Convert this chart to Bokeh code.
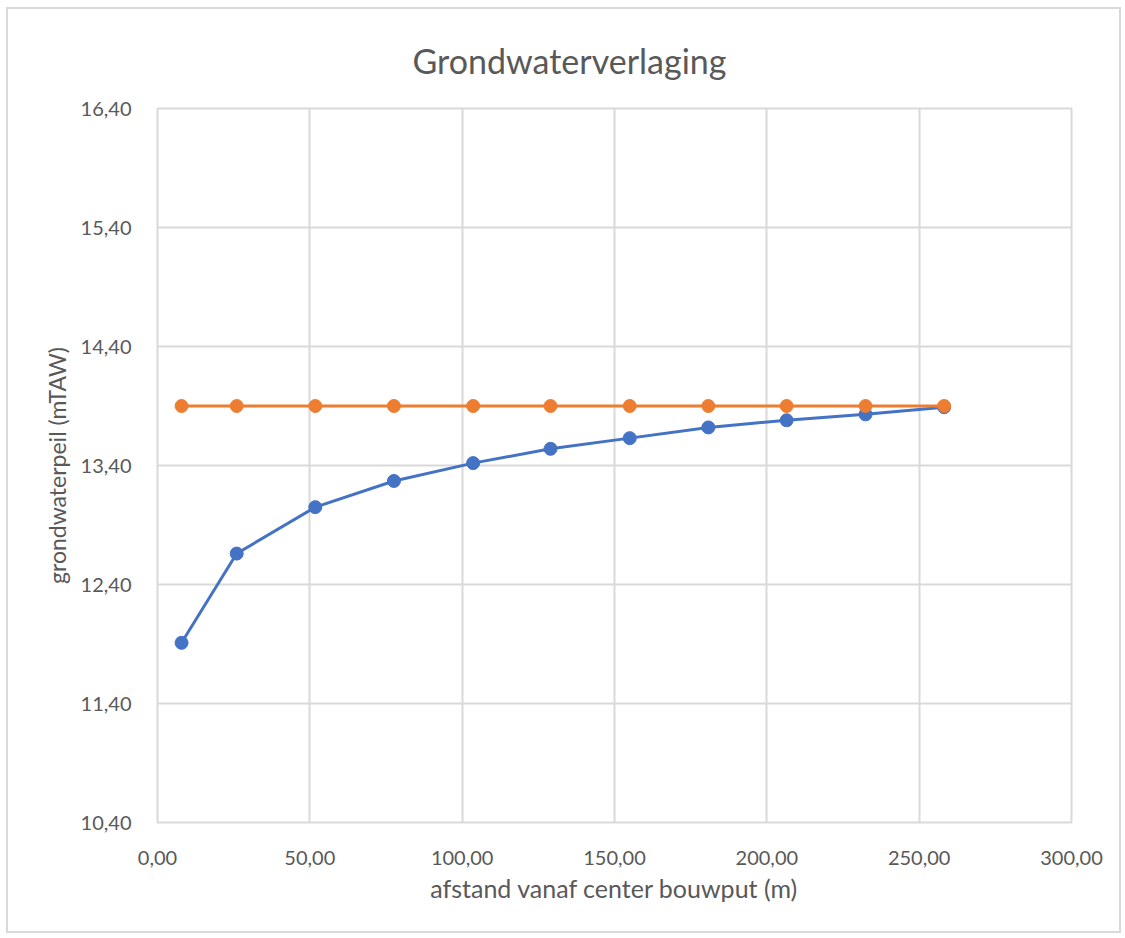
from bokeh.plotting import figure
from bokeh.models import FixedTicker, CustomJSTickFormatter, ColumnDataSource
from bokeh.embed import file_html
from bokeh.resources import INLINE

# Distance from the centre of the excavation (m)
afstand = [7.9, 26.0, 51.8, 77.6, 103.6, 129.0, 155.0, 180.8, 206.5, 232.4, 258.2]
# Lowered groundwater level (mTAW)
verlaagd_peil = [11.91, 12.66, 13.05, 13.27, 13.42, 13.54, 13.63, 13.72, 13.78, 13.83, 13.89]
# Undisturbed groundwater level (mTAW)
oorspronkelijk_peil = [13.90, 13.90, 13.90, 13.90, 13.90, 13.90, 13.90, 13.90, 13.90, 13.90, 13.90]

x_ticks = [0, 50, 100, 150, 200, 250, 300]
y_ticks = [10.4, 11.4, 12.4, 13.4, 14.4, 15.4, 16.4]

FONT = "Lato"
TXT = "#595959"
GRID = "#d9d9d9"

p = figure(
    width=1115, height=926,
    x_range=(0, 300), y_range=(10.4, 16.4),
    output_backend="svg", toolbar_location=None,
    title="Grondwaterverlaging",
    x_axis_label="afstand vanaf center bouwput (m)",
    y_axis_label="grondwaterpeil (mTAW)",
    min_border_left=149, min_border_right=52,
    min_border_top=99, min_border_bottom=113,
)
# light frame around the whole chart area
p.styles = {"border": "2px solid #d9d9d9", "margin-left": "6px", "margin-top": "7px"}

p.title.align = "left"
p.title.offset = 255
p.title.text_font = FONT
p.title.text_font_size = "34px"
p.title.text_font_style = "normal"
p.title.text_color = TXT
p.title.standoff = 56

p.outline_line_color = GRID
p.outline_line_width = 2
p.background_fill_color = "white"
p.border_fill_color = "white"

comma_fmt = CustomJSTickFormatter(code="return tick.toFixed(2).replace('.', ',');")

for ax in (p.xaxis[0], p.yaxis[0]):
    ax.axis_line_color = None
    ax.major_tick_line_color = None
    ax.minor_tick_line_color = None
    ax.major_label_text_font = FONT
    ax.major_label_text_font_size = "20px"
    ax.major_label_text_color = TXT
    ax.axis_label_text_font = FONT
    ax.axis_label_text_font_style = "normal"
    ax.axis_label_text_color = TXT
    ax.formatter = comma_fmt

p.xaxis.axis_label_text_font_size = "25px"
p.yaxis.axis_label_text_font_size = "23px"
p.xaxis.ticker = FixedTicker(ticks=x_ticks)
p.yaxis.ticker = FixedTicker(ticks=y_ticks)
p.xaxis.major_label_standoff = 22
p.yaxis.major_label_standoff = 20
p.xaxis.axis_label_standoff = 5
p.yaxis.axis_label_standoff = 7

p.xgrid.ticker = FixedTicker(ticks=x_ticks)
p.ygrid.ticker = FixedTicker(ticks=y_ticks)
p.grid.grid_line_color = GRID
p.grid.grid_line_width = 2

src = ColumnDataSource(dict(x=afstand, laag=verlaagd_peil, orig=oorspronkelijk_peil))

BLUE = "#4472C4"
ORANGE = "#ED7D31"

p.line("x", "laag", source=src, line_color=BLUE, line_width=3)
p.scatter("x", "laag", source=src, size=13, fill_color=BLUE, line_color=BLUE)
p.line("x", "orig", source=src, line_color=ORANGE, line_width=3)
p.scatter("x", "orig", source=src, size=13, fill_color=ORANGE, line_color=ORANGE)

open("out.html", "w").write(file_html(p, INLINE))
